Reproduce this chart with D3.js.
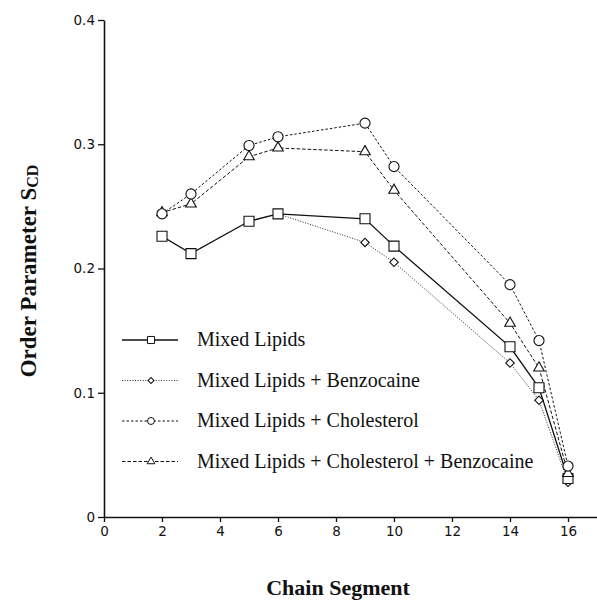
<!DOCTYPE html>
<html>
<head>
<meta charset="utf-8">
<script src="https://cdn.jsdelivr.net/npm/d3@7"></script>
<style>
  body { margin: 0; background: #fff; }
  .tick text { font-family: 'DejaVu Sans', sans-serif; font-size: 13.5px; fill: #111; }
  .axis-label { font-family: 'Liberation Serif', 'DejaVu Serif', serif; font-weight: bold; font-size: 22px; fill: #111; }
  .legend-label { font-family: 'Liberation Serif', serif; font-size: 20px; fill: #111; }
</style>
</head>
<body>
<svg width="597" height="601"></svg>
<script>
const segments = [2, 3, 5, 6, 9, 10, 14, 15, 16];

const mixedLipids = [0.226, 0.212, 0.238, 0.244, 0.240, 0.218, 0.137, 0.104, 0.031];
const mixedBenzocaine = [0.226, 0.212, 0.238, 0.244, 0.221, 0.205, 0.124, 0.094, 0.028];
const mixedCholesterol = [0.244, 0.260, 0.299, 0.306, 0.317, 0.282, 0.187, 0.142, 0.041];
const mixedCholBenzocaine = [0.245, 0.252, 0.290, 0.297, 0.294, 0.263, 0.156, 0.120, 0.035];

const seriesNames = [
    'Mixed Lipids',
    'Mixed Lipids + Benzocaine',
    'Mixed Lipids + Cholesterol',
    'Mixed Lipids + Cholesterol + Benzocaine'
];

const xTicks = [0, 2, 4, 6, 8, 10, 12, 14, 16];
const yTicks = [0, 0.1, 0.2, 0.3, 0.4];

const xLabel = 'Chain Segment';
const yLabel = 'Order Parameter ';

// drawing order: benzocaine under mixed lipids, triangles under circles
const series = [
    { name: seriesNames[1], values: mixedBenzocaine, shape: 'diamond', dash: '1,1.6', width: 0.9 },
    { name: seriesNames[0], values: mixedLipids, shape: 'square', dash: null, width: 1.3 },
    { name: seriesNames[3], values: mixedCholBenzocaine, shape: 'triangle', dash: '3.5,2', width: 1 },
    { name: seriesNames[2], values: mixedCholesterol, shape: 'circle', dash: '2.5,2', width: 1 }
];

const svg = d3.select('svg');

const xScale = d3.scaleLinear().domain([0, 17]).range([104, 597]);
const yScale = d3.scaleLinear().domain([0, 0.4]).range([517, 20]);

const xAxis = d3.axisBottom(xScale)
    .tickValues(xTicks)
    .tickFormat(d3.format('d'))
    .tickSize(5)
    .tickSizeOuter(0)
    .tickPadding(4);

const yAxis = d3.axisLeft(yScale)
    .tickValues(yTicks)
    .tickFormat(d => d === 0 ? '0' : d3.format('.1f')(d))
    .tickSize(6)
    .tickSizeOuter(0)
    .tickPadding(3);

const xAxisG = svg.append('g')
    .attr('transform', `translate(0, ${yScale(0)})`)
    .call(xAxis);
const yAxisG = svg.append('g')
    .attr('transform', `translate(${xScale(0)}, 0)`)
    .call(yAxis);

[xAxisG, yAxisG].forEach(a => {
    a.select('.domain').attr('stroke', '#111').attr('stroke-width', 1.6);
    a.selectAll('.tick line').attr('stroke', '#111').attr('stroke-width', 1.3);
});

svg.append('text')
    .attr('class', 'axis-label')
    .attr('x', 338)
    .attr('y', 595)
    .style('text-anchor', 'middle')
    .text(xLabel);

const yTitle = svg.append('text')
    .attr('class', 'axis-label')
    .attr('transform', 'translate(36, 271) rotate(-90)')
    .style('text-anchor', 'middle')
    .style('font-size', '23px')
    .text(yLabel);
yTitle.append('tspan').text('S');
yTitle.append('tspan').attr('font-size', '16px').attr('dy', 2).text('CD');

const symbolFor = (shape, big) => {
    if (shape === 'square') return d3.symbol(d3.symbolSquare, big ? 100 : 50)();
    if (shape === 'circle') return d3.symbol(d3.symbolCircle, big ? 80 : 38)();
    if (shape === 'triangle') return d3.symbol(d3.symbolTriangle, big ? 48 : 26)();
    return d3.symbol(d3.symbolSquare, big ? 36 : 18)();
};

const line = d3.line()
    .x(d => xScale(d[0]))
    .y(d => yScale(d[1]));

const plotG = svg.append('g');

series.forEach(s => {
    const pts = segments.map((x, i) => [x, s.values[i]]);
    plotG.append('path')
        .attr('d', line(pts))
        .attr('fill', 'none')
        .attr('stroke', '#111')
        .attr('stroke-width', s.width)
        .attr('stroke-dasharray', s.dash);
});

series.forEach(s => {
    const pts = segments.map((x, i) => [x, s.values[i]]);
    plotG.selectAll(null).data(pts)
        .enter().append('path')
        .attr('d', symbolFor(s.shape, true))
        .attr('transform', d => `translate(${xScale(d[0])},${yScale(d[1])})` + (s.shape === 'diamond' ? ' rotate(45)' : ''))
        .attr('fill', '#fff')
        .attr('stroke', '#111')
        .attr('stroke-width', 1.1);
});

// legend
const legendOrder = [series[1], series[0], series[3], series[2]];
const legendG = svg.append('g').attr('transform', 'translate(122, 340)');
legendOrder.forEach((s, i) => {
    const row = legendG.append('g').attr('transform', `translate(0, ${i * 40.5})`);
    row.append('line')
        .attr('x1', 0).attr('x2', 56)
        .attr('stroke', '#111')
        .attr('stroke-width', s.width)
        .attr('stroke-dasharray', s.dash);
    row.append('path')
        .attr('d', symbolFor(s.shape, false))
        .attr('transform', 'translate(29, 0)' + (s.shape === 'diamond' ? ' rotate(45)' : ''))
        .attr('fill', '#fff')
        .attr('stroke', '#111')
        .attr('stroke-width', 1);
    row.append('text')
        .attr('class', 'legend-label')
        .attr('x', 75)
        .attr('y', 6)
        .text(s.name);
});
</script>
</body>
</html>
